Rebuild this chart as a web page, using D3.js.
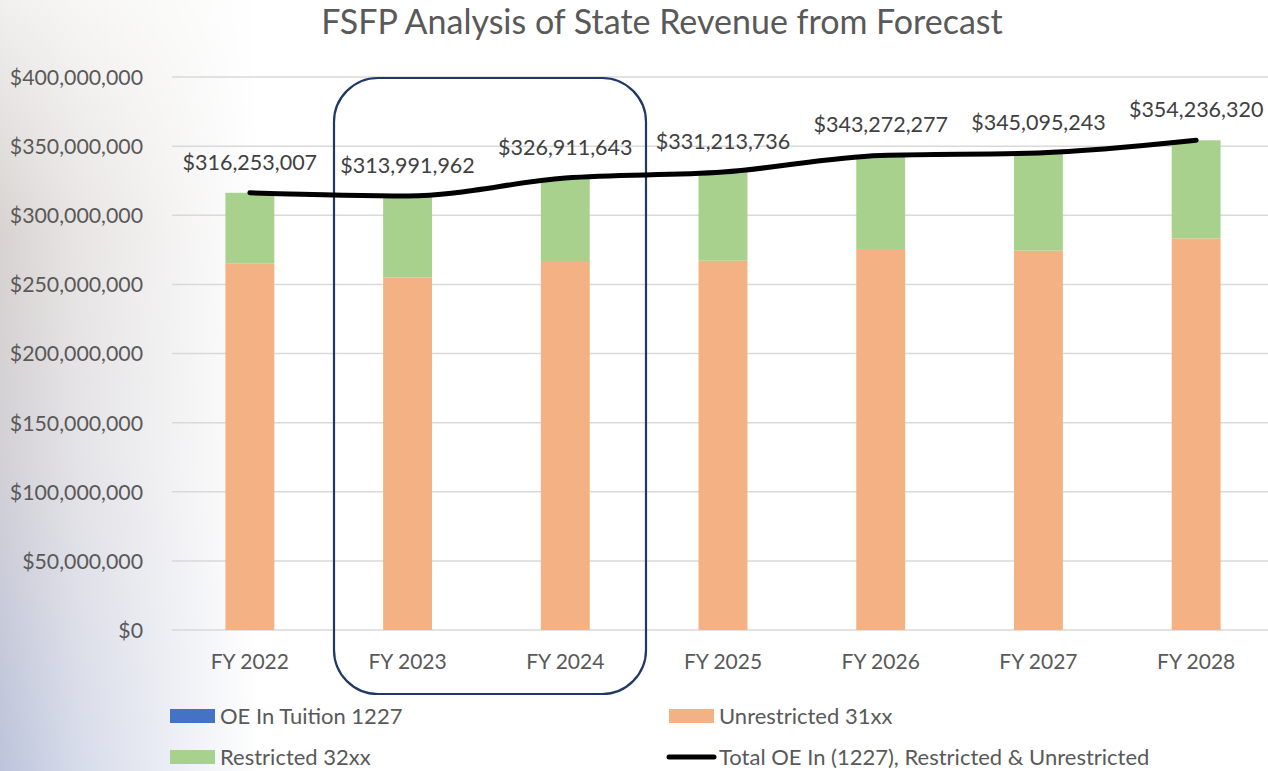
<!DOCTYPE html>
<html><head><meta charset="utf-8">
<script src="https://cdn.jsdelivr.net/npm/d3@7"></script>
<style>body{margin:0;background:#fff;}svg{display:block;font-family:Lato,"Open Sans",sans-serif;}</style>
</head><body>
<svg id="chart" width="1268" height="771"></svg>
<script>
const categories = ["FY 2022","FY 2023","FY 2024","FY 2025","FY 2026","FY 2027","FY 2028"];
const oeTuition = [0,0,0,0,0,0,0];
const unrestricted = [265200000,255100000,266200000,267100000,275600000,274400000,283300000];
const restricted = [51053007,58891962,60711643,64113736,67672277,70695243,70936320];
const totals = [316253007,313991962,326911643,331213736,343272277,345095243,354236320];
const yTicks = [0,50000000,100000000,150000000,200000000,250000000,300000000,350000000,400000000];
const seriesNames = ["OE In Tuition 1227","Unrestricted 31xx","Restricted 32xx","Total OE In (1227), Restricted & Unrestricted"];
const colors = {oe:"#4472c4", unr:"#f4b183", res:"#a9d18e", line:"#000000"};

const svg = d3.select("#chart");
const W = 1268, H = 771;
const defs = svg.append("defs");

// background gradient on left
const vg = defs.append("linearGradient").attr("id","vg").attr("x1",0).attr("y1",0).attr("x2",0).attr("y2",1);
vg.append("stop").attr("offset",0).attr("stop-color","#f1f0ee");
vg.append("stop").attr("offset",0.3).attr("stop-color","#d8d3d1");
vg.append("stop").attr("offset",0.6).attr("stop-color","#d2d0d6");
vg.append("stop").attr("offset",1).attr("stop-color","#bcc4dc");
const hg = defs.append("linearGradient").attr("id","hg").attr("x1",0).attr("y1",0).attr("x2",1).attr("y2",0);
hg.append("stop").attr("offset",0).attr("stop-color","#fff").attr("stop-opacity",1);
hg.append("stop").attr("offset",0.3).attr("stop-color","#fff").attr("stop-opacity",0.6);
hg.append("stop").attr("offset",1).attr("stop-color","#fff").attr("stop-opacity",0);
const mask = defs.append("mask").attr("id","bgmask");
mask.append("rect").attr("x",0).attr("y",0).attr("width",260).attr("height",H).attr("fill","url(#hg)");
svg.append("rect").attr("width",W).attr("height",H).attr("fill","#ffffff");
svg.append("rect").attr("width",260).attr("height",H).attr("fill","url(#vg)").attr("mask","url(#bgmask)");

const x = d3.scaleBand().domain(categories).range([171,1275]).paddingInner(0.69).paddingOuter(0.345);
const y = d3.scaleLinear().domain([0,400000000]).range([630,77]);

// gridlines
svg.append("g").selectAll("line").data(yTicks).join("line")
  .attr("x1",172).attr("x2",1268)
  .attr("y1",d=>y(d)).attr("y2",d=>y(d))
  .attr("stroke","#d9d9d9").attr("stroke-width",1.5);

// y axis labels
const yAxis = d3.axisLeft(y).tickValues(yTicks).tickSize(0).tickPadding(0)
  .tickFormat(d=>"$"+d3.format(",")(d));
const ya = svg.append("g").attr("transform","translate(143,0)").call(yAxis);
ya.select(".domain").remove();
ya.selectAll("text").attr("font-size",21.3).attr("fill","#595959").attr("font-family","Lato,sans-serif").attr("dy","0.35em");

// x axis labels
const xAxis = d3.axisBottom(x).tickSize(0).tickPadding(0);
const xa = svg.append("g").attr("transform","translate(0,662)").call(xAxis);
xa.select(".domain").remove();
xa.selectAll("text").attr("font-size",21).attr("fill","#595959").attr("font-family","Lato,sans-serif").attr("dy","0.35em");

// stacked bars
const stackData = categories.map((c,i)=>({cat:c, oe:oeTuition[i], unr:unrestricted[i], res:restricted[i]}));
const stack = d3.stack().keys(["oe","unr","res"])(stackData);
svg.append("g").selectAll("g").data(stack).join("g")
  .attr("fill",d=>colors[d.key])
  .selectAll("rect").data(d=>d).join("rect")
  .attr("x",d=>x(d.data.cat)).attr("width",x.bandwidth())
  .attr("y",d=>y(d[1])).attr("height",d=>Math.max(0,y(d[0])-y(d[1])));

// highlight box
svg.append("rect").attr("x",334).attr("y",78).attr("width",312).attr("height",616)
  .attr("rx",44).attr("ry",44).attr("fill","none").attr("stroke","#1f3864").attr("stroke-width",2.2);

// total line
const line = d3.line().x((d,i)=>x(categories[i])+x.bandwidth()/2).y(d=>y(d)).curve(d3.curveMonotoneX);
svg.append("path").datum(totals).attr("d",line).attr("fill","none")
  .attr("stroke",colors.line).attr("stroke-width",5).attr("stroke-linecap","round");

// data labels
svg.append("g").selectAll("text").data(totals).join("text")
  .attr("x",(d,i)=>x(categories[i])+x.bandwidth()/2)
  .attr("y",d=>y(d)-23)
  .attr("text-anchor","middle").attr("font-size",21.5).attr("fill","#404040")
  .text(d=>"$"+d3.format(",")(d));

// title
svg.append("text").attr("x",662).attr("y",34).attr("text-anchor","middle")
  .attr("font-size",34).attr("fill","#595959").text("FSFP Analysis of State Revenue from Forecast");

// legend
const lg = svg.append("g");
const legendItems = [
  {name:seriesNames[0], type:"rect", color:colors.oe, x:170, y:716},
  {name:seriesNames[1], type:"rect", color:colors.unr, x:669, y:716},
  {name:seriesNames[2], type:"rect", color:colors.res, x:170, y:757},
  {name:seriesNames[3], type:"line", color:colors.line, x:669, y:757}
];
legendItems.forEach(it=>{
  if(it.type==="rect"){
    lg.append("rect").attr("x",it.x).attr("y",it.y-7).attr("width",45).attr("height",14).attr("fill",it.color);
  } else {
    lg.append("line").attr("x1",it.x).attr("x2",it.x+45).attr("y1",it.y).attr("y2",it.y)
      .attr("stroke",it.color).attr("stroke-width",5).attr("stroke-linecap","round");
  }
  lg.append("text").attr("x",it.x+50).attr("y",it.y).attr("dy","0.35em")
    .attr("font-size",22).attr("fill","#595959").text(it.name);
});
</script>
</body></html>
